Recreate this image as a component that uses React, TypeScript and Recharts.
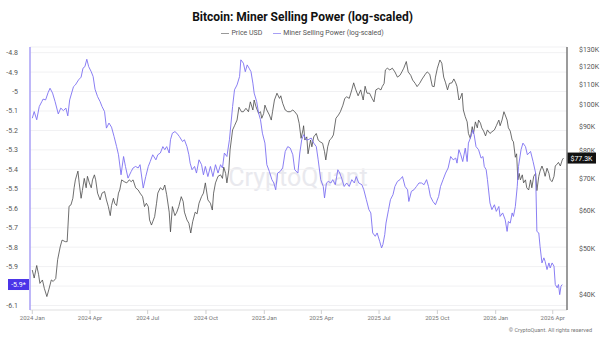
import React from "react";
import { LineChart, Line, XAxis, YAxis, CartesianGrid, ReferenceLine } from "recharts";

// x positions are days since 2024-01-01
const tickDays = [0, 91, 182, 274, 366, 456, 547, 639, 731, 821];
const tickLabels = ["2024 Jan", "2024 Apr", "2024 Jul", "2024 Oct", "2025 Jan", "2025 Apr", "2025 Jul", "2025 Oct", "2026 Jan", "2026 Apr"];
const mspTicks = [-4.8, -4.9, -5, -5.1, -5.2, -5.3, -5.4, -5.5, -5.6, -5.7, -5.8, -5.9, -6, -6.1];
const priceTicks = [40000, 50000, 60000, 70000, 80000, 90000, 100000, 110000, 120000, 130000];

const lastMspLabel = "-5.9*";
const lastPriceLabel = "$77.3K";

// [day, price USD]
const priceSeries: [number, number][] = [
	[0, 45100], [3, 43400], [7, 46100], [10, 44100], [12, 42300], [16, 43000], [19, 41300], [23, 39700],
	[26, 41000], [30, 43000], [33, 42700], [37, 43300], [40, 47400], [44, 50400], [47, 52100], [52, 51700],
	[55, 51700], [58, 61300], [61, 61700], [64, 63700], [66, 67000], [68, 69600], [72, 72600], [74, 68600],
	[77, 63700], [79, 66100], [82, 70100], [85, 67000], [87, 70800], [90, 68600], [93, 67000], [95, 69600],
	[98, 71300], [100, 69600], [103, 65300], [107, 63200], [110, 65300], [114, 65800], [117, 63200], [120, 61200],
	[123, 58600], [125, 61500], [128, 63700], [130, 62200], [133, 61500], [136, 65300], [138, 66300], [141, 69600],
	[145, 69000], [149, 68600], [153, 69600], [156, 69000], [159, 69600], [163, 67000], [167, 66300], [170, 65300],
	[174, 64200], [177, 61200], [180, 62200], [183, 61200], [185, 57400], [188, 56000], [190, 56900], [193, 58300],
	[196, 62200], [198, 65300], [202, 67000], [206, 66300], [209, 67900], [212, 64800], [216, 59600], [218, 54200],
	[221, 61200], [225, 58600], [228, 59600], [231, 61200], [235, 64200], [238, 62700], [240, 59600], [244, 57400],
	[247, 56500], [250, 53900], [253, 56900], [257, 59600], [260, 59100], [263, 62200], [267, 64200], [270, 65300],
	[273, 68600], [277, 63200], [281, 62200], [284, 60200], [286, 65300], [289, 68600], [293, 70800], [297, 71300],
	[300, 70100], [302, 74000], [305, 71800], [307, 68600], [310, 73000], [312, 80400], [316, 88500], [319, 90300],
	[323, 92800], [326, 98700], [330, 96600], [333, 96600], [337, 98200], [341, 96600], [344, 101300], [348, 97400],
	[350, 102200], [353, 98900], [357, 95800], [360, 96600], [362, 93600], [365, 95800], [367, 99700], [370, 97400],
	[374, 95100], [377, 92800], [379, 96600], [382, 102200], [386, 105600], [390, 103000], [392, 104300], [395, 100600],
	[399, 97400], [403, 96600], [407, 96600], [411, 97400], [414, 96600], [418, 95100], [421, 91400], [424, 85000],
	[427, 88500], [428, 90300], [430, 84300], [433, 85600], [435, 78900], [439, 84300], [441, 81600], [444, 85600],
	[448, 87000], [451, 84300], [454, 83600], [458, 83000], [461, 79700], [463, 76600], [466, 81600], [469, 84300],
	[472, 85000], [475, 86400], [479, 93600], [483, 95100], [486, 96600], [490, 99700], [493, 103000], [496, 103800],
	[500, 103000], [504, 107300], [507, 111000], [510, 107700], [514, 104300], [518, 107300], [522, 102200], [525, 109200],
	[528, 105600], [532, 105600], [536, 103000], [539, 101300], [542, 107300], [546, 108100], [550, 107300], [552, 109000],
	[555, 110700], [557, 118100], [560, 119100], [564, 118100], [568, 119100], [572, 117000], [576, 114100], [580, 115100],
	[583, 117000], [586, 119100], [590, 123000], [593, 117000], [597, 115100], [600, 112500], [604, 110700], [607, 109000],
	[611, 110700], [615, 113100], [620, 115700], [623, 117000], [627, 115700], [631, 109200], [634, 109000], [636, 114100],
	[639, 119100], [643, 123900], [646, 122000], [649, 114100], [652, 111000], [655, 107300], [658, 110700], [662, 111000],
	[665, 113100], [668, 111000], [670, 109000], [673, 102200], [675, 103000], [678, 105600], [680, 97400], [683, 94300],
	[686, 92000], [688, 87000], [691, 85000], [694, 89900], [696, 87000], [699, 92000], [702, 89400], [704, 92800],
	[707, 91400], [709, 89400], [712, 88000], [715, 86000], [718, 88500], [722, 87000], [725, 87700], [729, 88500],
	[732, 90300], [736, 92800], [738, 90300], [741, 92800], [744, 96600], [746, 95100], [749, 92800], [751, 89400],
	[754, 88000], [757, 84300], [759, 83600], [762, 77600], [764, 78900], [766, 69600], [768, 71800], [770, 69600],
	[773, 71300], [775, 68600], [778, 69600], [780, 67000], [783, 66300], [786, 69600], [788, 67000], [791, 70800],
	[794, 71800], [796, 66100], [799, 70800], [801, 72600], [804, 74400], [807, 72600], [809, 70800], [812, 73600],
	[815, 71800], [817, 69600], [820, 69000], [823, 70800], [825, 74400], [828, 75100], [830, 75700], [833, 74400],
	[836, 76600], [838, 77300],
];

// [day, miner selling power (log-scaled)]
const mspSeries: [number, number][] = [
	[0, -5.137], [3, -5.103], [7, -5.145], [11, -5.077], [15, -5.052], [17, -5.039], [21, -5.043], [25, -5.005],
	[28, -4.983], [32, -5.008], [36, -5.052], [41, -5.115], [45, -5.085], [49, -5.098], [53, -5.085], [56, -5.125],
	[59, -5.043], [65, -4.975], [68, -4.966], [73, -4.94], [77, -4.926], [80, -4.88], [83, -4.872], [86, -4.834],
	[89, -4.872], [93, -4.898], [96, -4.923], [99, -4.988], [103, -5.026], [107, -5.052], [110, -5.077], [114, -5.103],
	[117, -5.188], [121, -5.162], [125, -5.183], [129, -5.231], [133, -5.283], [136, -5.325], [140, -5.428], [144, -5.334],
	[147, -5.385], [151, -5.445], [156, -5.411], [159, -5.393], [163, -5.385], [167, -5.393], [170, -5.376], [175, -5.496],
	[179, -5.437], [183, -5.385], [186, -5.36], [190, -5.325], [195, -5.351], [198, -5.325], [202, -5.316], [206, -5.283],
	[209, -5.299], [212, -5.283], [216, -5.316], [218, -5.248], [221, -5.214], [225, -5.206], [228, -5.214], [232, -5.231],
	[237, -5.257], [240, -5.248], [244, -5.283], [247, -5.325], [249, -5.368], [252, -5.402], [256, -5.385], [259, -5.419],
	[263, -5.351], [267, -5.376], [270, -5.428], [273, -5.385], [277, -5.437], [281, -5.385], [285, -5.437], [289, -5.376],
	[293, -5.419], [297, -5.376], [300, -5.393], [303, -5.316], [307, -5.334], [311, -5.248], [316, -5.077], [319, -4.991],
	[323, -4.966], [327, -4.923], [329, -4.837], [333, -4.854], [336, -4.898], [339, -4.863], [342, -4.88], [345, -4.898],
	[348, -4.957], [350, -5.008], [354, -5.052], [357, -5.111], [360, -5.145], [363, -5.214], [367, -5.265], [370, -5.376],
	[374, -5.411], [378, -5.453], [381, -5.47], [384, -5.505], [387, -5.419], [391, -5.411], [395, -5.393], [399, -5.308],
	[403, -5.283], [407, -5.291], [411, -5.325], [414, -5.402], [419, -5.419], [422, -5.316], [425, -5.248], [428, -5.222],
	[432, -5.248], [435, -5.248], [440, -5.239], [444, -5.265], [448, -5.283], [451, -5.351], [455, -5.453], [459, -5.488],
	[461, -5.547], [464, -5.47], [467, -5.462], [471, -5.47], [474, -5.453], [478, -5.479], [482, -5.402], [485, -5.419],
	[488, -5.445], [492, -5.488], [496, -5.47], [500, -5.488], [504, -5.453], [508, -5.47], [511, -5.437], [515, -5.47],
	[520, -5.479], [523, -5.505], [527, -5.556], [531, -5.607], [534, -5.624], [537, -5.727], [541, -5.744], [544, -5.727],
	[548, -5.77], [551, -5.804], [553, -5.787], [556, -5.736], [558, -5.676], [562, -5.607], [565, -5.556], [569, -5.53],
	[572, -5.488], [576, -5.462], [580, -5.453], [584, -5.437], [588, -5.488], [592, -5.505], [594, -5.565], [598, -5.513],
	[602, -5.505], [606, -5.488], [610, -5.47], [614, -5.47], [618, -5.479], [622, -5.453], [625, -5.488], [628, -5.539],
	[632, -5.565], [636, -5.582], [641, -5.539], [644, -5.488], [648, -5.453], [652, -5.419], [656, -5.393], [660, -5.334],
	[664, -5.351], [668, -5.342], [670, -5.368], [673, -5.299], [676, -5.325], [679, -5.36], [683, -5.291], [686, -5.36],
	[688, -5.265], [692, -5.231], [695, -5.197], [697, -5.222], [700, -5.283], [704, -5.299], [708, -5.342], [711, -5.334],
	[713, -5.385], [716, -5.402], [718, -5.453], [722, -5.573], [725, -5.607], [729, -5.582], [732, -5.616], [736, -5.591],
	[738, -5.642], [742, -5.624], [746, -5.659], [749, -5.719], [751, -5.668], [754, -5.676], [757, -5.624], [759, -5.642],
	[762, -5.591], [765, -5.488], [767, -5.385], [771, -5.299], [774, -5.265], [778, -5.283], [781, -5.325], [786, -5.308],
	[790, -5.36], [794, -5.419], [796, -5.719], [799, -5.727], [801, -5.796], [804, -5.881], [807, -5.855], [809, -5.873],
	[812, -5.915], [815, -5.881], [817, -5.907], [820, -5.881], [823, -5.898], [825, -5.992], [828, -6.009], [830, -5.992],
	[832, -6.044], [834, -6.001], [836, -5.992],
];

const priceData = priceSeries.map(([day, price]) => ({ day, price }));
const mspData = mspSeries.map(([day, msp]) => ({ day, msp }));

const lastMsp = mspSeries[mspSeries.length - 1][1];
const lastPrice = priceSeries[priceSeries.length - 1][1];

const FONT = "Roboto, 'Noto Sans', sans-serif";
const PURPLE = "#7d70f2";

const AxisBadge = (props: any) => {
	const { viewBox, text, fill, side } = props;
	if (!viewBox) return null;
	const w = side === "left" ? 21 : 29;
	const x = side === "left" ? viewBox.x - w - 1 : viewBox.x + viewBox.width;
	return (
		<g>
			<rect x={x} y={viewBox.y - 5.5} width={w} height={11} fill={fill} />
			<text x={x + w / 2} y={viewBox.y} dy="0.35em" textAnchor="middle" fontSize={7} fill="#fff" fontFamily={FONT}>
				{text}
			</text>
		</g>
	);
};

// the badge on the left axis covers the tick that sits at the last value
const mspTickLabel = (v: number) => (Math.abs(v - lastMsp) < 0.05 ? "" : String(v));

export default function App() {
	const tickStyle = { fontSize: 7, fill: "#555", fontFamily: FONT };
	return (
		<div style={{ position: "absolute", left: 0, top: 0, width: 605, height: 340, background: "#fff", fontFamily: FONT }}>
			<div
				style={{
					position: "absolute",
					left: 0,
					top: 163,
					width: 596,
					textAlign: "center",
					fontSize: 25,
					color: "#e9e9ee",
				}}
			>
				CryptoQuant
			</div>
			<div style={{ position: "absolute", left: 0, top: 10, width: 605, textAlign: "center", fontSize: 12, fontWeight: 700, color: "#111" }}>
				Bitcoin: Miner Selling Power (log-scaled)
			</div>
			<div
				style={{
					position: "absolute",
					left: 0,
					top: 29,
					width: 605,
					display: "flex",
					justifyContent: "center",
					gap: 11,
					fontSize: 7,
					color: "#555",
				}}
			>
				<span style={{ display: "flex", alignItems: "center", gap: 2 }}>
					<span style={{ width: 8, height: 1, background: "#999" }} />
					Price USD
				</span>
				<span style={{ display: "flex", alignItems: "center", gap: 2 }}>
					<span style={{ width: 8, height: 1, background: "#a79ff5" }} />
					Miner Selling Power (log-scaled)
				</span>
			</div>
			<div style={{ position: "absolute", left: 0, top: 0 }}>
				<LineChart width={605} height={340} margin={{ top: 47, right: 0, bottom: 0, left: 0 }}>
					<CartesianGrid yAxisId="left" vertical={false} stroke="#f1f1f3" />
					<XAxis
						dataKey="day"
						type="number"
						domain={[-3.6, 843.5]}
						allowDataOverflow
						ticks={tickDays}
						interval={0}
						tickFormatter={(v: number) => tickLabels[tickDays.indexOf(v)]}
						height={30}
						tickSize={4}
						tickMargin={2}
						axisLine={{ stroke: "#e6e6e6" }}
						tickLine={{ stroke: "#cfcfcf" }}
						tick={{ ...tickStyle, fontSize: 6, fill: "#777" }}
					/>
					<YAxis
						yAxisId="left"
						width={30}
						domain={[-6.123, -4.771]}
						allowDataOverflow
						ticks={mspTicks}
						interval={0}
						tickFormatter={mspTickLabel}
						axisLine={{ stroke: "#a99ff6", strokeWidth: 1.5 }}
						tickLine={false}
						tickMargin={6}
						tick={tickStyle}
					/>
					<YAxis
						yAxisId="right"
						orientation="right"
						width={38}
						scale="log"
						domain={[37216, 131889]}
						allowDataOverflow
						ticks={priceTicks}
						interval={0}
						tickFormatter={(v: number) => `$${v / 1000}K`}
						axisLine={{ stroke: "#7a7a7a", strokeWidth: 1.5 }}
						tickLine={false}
						tickMargin={6}
						tick={tickStyle}
					/>
					<Line
						yAxisId="right"
						data={priceData}
						dataKey="price"
						type="linear"
						stroke="#4a4a4a"
						strokeWidth={0.8}
						dot={false}
						isAnimationActive={false}
					/>
					<Line
						yAxisId="left"
						data={mspData}
						dataKey="msp"
						type="linear"
						stroke={PURPLE}
						strokeWidth={0.9}
						dot={false}
						isAnimationActive={false}
					/>
					<ReferenceLine
						yAxisId="left"
						y={lastMsp}
						stroke="none"
						label={<AxisBadge text={lastMspLabel} fill="#4b34e8" side="left" />}
					/>
					<ReferenceLine
						yAxisId="right"
						y={lastPrice}
						stroke="none"
						label={<AxisBadge text={lastPriceLabel} fill="#111" side="right" />}
					/>
				</LineChart>
			</div>
			<div style={{ position: "absolute", right: 13, top: 327, fontSize: 5.5, color: "#777" }}>
				© CryptoQuant. All rights reserved
			</div>
		</div>
	);
}
